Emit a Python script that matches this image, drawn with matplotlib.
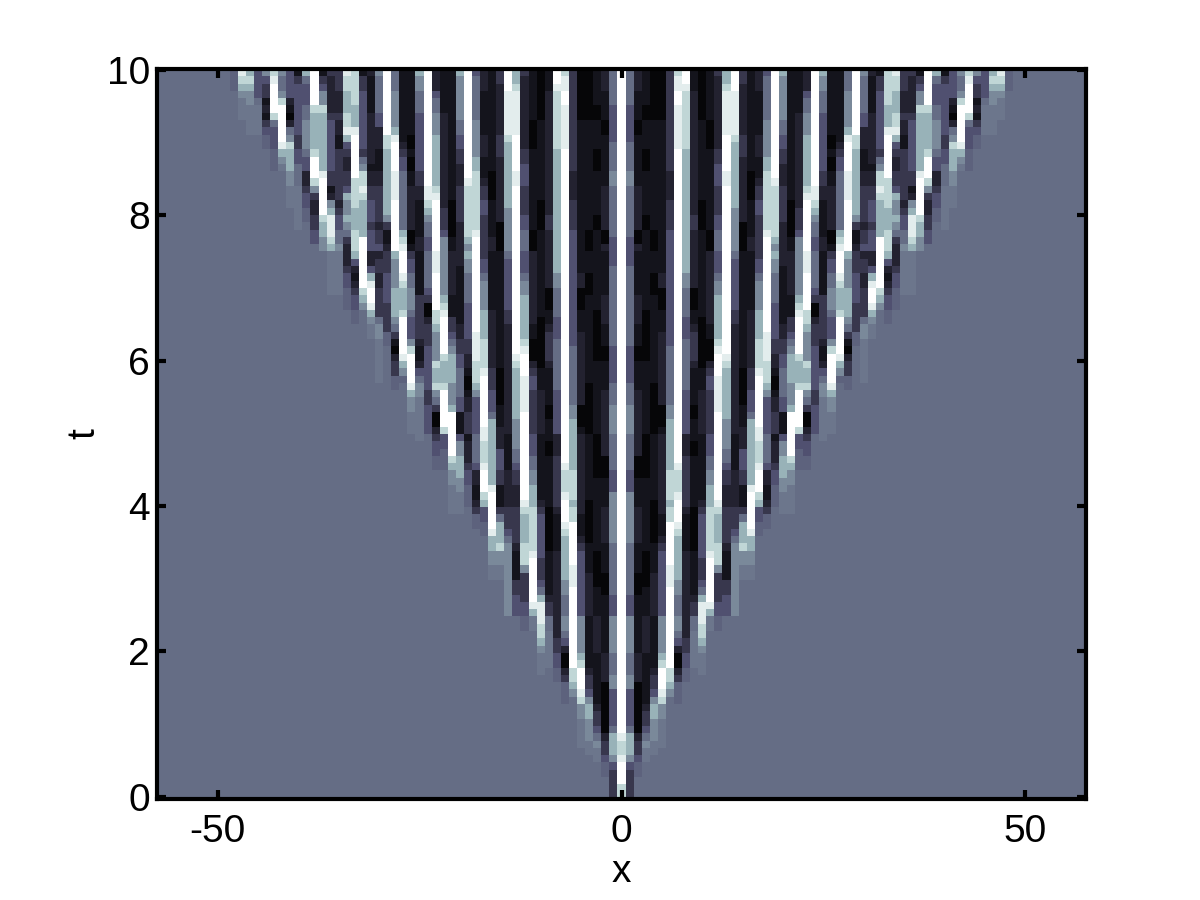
import numpy as np
import matplotlib
matplotlib.use("Agg")
import matplotlib.pyplot as plt

plt.rcParams['font.family'] = ['Liberation Sans', 'DejaVu Sans']
plt.rcParams['axes.unicode_minus'] = False

# Shade code -> value on the colour scale
SHADES = {'0': .03, '1': .09, '2': .16, '3': .25, '4': .36, 'd': .42, '5': .455,
          'f': .485, '6': .55, '7': .68, '8': .82, 'a': .92, '9': 1.0}
BACKGROUND = '5'
X_TICKS = [-50, 0, 50]
T_TICKS = [0, 2, 4, 6, 8, 10]
X_MAX = 57
ROWS_PER_BLOCK = 25

# Each block: |x| -> runs "shade:count" down the rows, top of the block first.
BLOCK_T_TOP = {
48: "d:3", 47: "a:1 8:1 7:1 6:1 f:3", 46: "7:1 8:1 7:1 6:2 f:4", 45: "4:4 5:1 f:4",
44: "6:1 4:1 3:2 1:1 2:1 1:1 3:1 4:1 d:2", 43: "8:1 a:1 9:4 8:1 5:1 4:3 d:3",
42: "6:1 5:2 6:1 8:1 9:5 a:1 7:1 6:1 f:1", 41: "4:4 2:1 1:1 0:1 2:1 5:1 6:1 8:1 7:3 6:2 f:3",
40: "1:1 3:1 4:7 3:2 4:2 5:3 f:6", 39: "7:1 5:1 4:3 5:2 6:4 5:1 4:2 2:2 3:1 4:2 d:2",
38: "9:5 8:1 7:5 8:1 9:3 8:1 6:1 3:1 2:2 3:2 4:2",
37: "1:1 3:1 4:1 6:2 8:1 7:8 a:1 9:5 8:1 7:2 6:2",
36: "3:1 2:5 3:1 4:7 3:2 1:1 2:1 6:1 7:1 a:3 8:1 7:1",
35: "3:3 2:3 3:1 2:2 1:2 3:7 2:1 3:1 4:2 5:2 6:1",
34: "a:1 8:2 7:3 8:2 a:1 7:1 4:1 3:1 2:2 3:2 4:1 7:1 6:2 7:1 6:1 5:1 3:1 2:1",
33: "8:5 7:3 a:1 9:6 8:4 7:3 8:3", 32: "1:1 3:2 4:8 3:1 5:1 6:1 8:2 a:1 8:1 7:5 9:2",
31: "2:1 1:5 2:7 1:1 2:2 3:2 4:3 3:1 4:3", 30: "6:1 5:5 4:2 2:3 1:3 2:2 3:5 2:1 3:2 4:1",
29: "9:9 8:2 7:9 6:1 3:1 1:2 2:1", 28: "5:3 6:5 7:1 a:1 9:4 a:4 9:7",
27: "1:10 2:1 3:1 4:2 5:8 7:1 8:1 a:1", 26: "1:9 0:2 1:1 0:2 1:2 2:6 0:2 1:1",
25: "7:1 6:2 5:3 4:8 3:2 2:2 1:5 2:2", 24: "9:16 a:2 8:1 7:1 6:1 5:2 4:2",
23: "2:3 4:1 5:2 6:3 7:7 8:1 a:1 9:7", 22: "1:6 2:13 3:3 4:1 6:2", 21: "1:18 0:5 1:2",
20: "7:1 6:6 5:2 4:2 3:2 2:3 3:5 2:4", 19: "9:15 a:1 8:7 7:1 6:1",
18: "4:1 5:6 6:5 7:2 8:8 a:1 9:2", 17: "2:3 1:6 2:3 1:3 2:1 3:2 4:2 3:5",
16: "1:14 0:4 1:5 2:2", 15: "3:2 2:7 3:3 2:9 0:4", 14: "9:3 a:6 8:1 7:9 6:6",
13: "7:2 8:1 a:6 9:5 a:2 9:9", 12: "3:1 2:10 3:2 4:3 3:4 4:2 5:3", 11: "1:7 0:4 1:11 0:3",
10: "0:7 1:11 0:4 1:3", 9: "1:3 2:17 3:2 2:3", 8: "9:2 a:1 8:8 7:14", 7: "8:1 a:2 9:2 a:6 9:14",
6: "3:14 2:4 3:4 4:3", 5: "0:7 1:18", 4: "0:7 1:15 0:3", 3: "1:5 0:2 1:4 0:3 1:6 0:2 1:3",
2: "2:3 1:4 0:2 1:7 2:6 0:2 2:1", 1: "5:5 4:5 5:4 6:2 5:7 4:2", 0: "9:25",
}
BLOCK_T_UPPER = {
36: "f:6", 35: "f:6", 34: "2:2 3:1 4:2 d:3", 33: "7:1 4:1 2:1 1:1 2:1 3:1 4:2 d:2",
32: "9:5 8:1 7:1 6:1", 31: "2:2 4:1 7:1 a:1 9:2 a:1 7:1 6:1 f:2", 30: "2:1 3:2 2:2 3:4 5:1 6:2 f:6",
29: "3:3 4:4 3:4 d:2", 28: "7:1 6:4 7:4 6:1 5:1 3:1 1:1 0:1 2:1 3:2 d:2",
27: "9:3 a:1 8:1 7:3 8:1 9:5 a:1 7:1 6:1 d:1", 26: "3:1 4:2 5:2 6:3 5:1 4:3 6:1 8:1 9:4 a:1 7:1 6:2 f:3",
25: "1:6 3:6 2:1 1:2 2:1 4:1 5:1 6:2 f:5", 24: "5:5 4:1 3:1 0:2 2:1 3:3 4:6 3:2 4:4",
23: "a:3 9:5 8:2 7:1 6:4 8:1 7:2 8:1 6:1 5:1 3:1 0:2 2:1",
22: "6:6 7:1 8:1 a:1 9:5 8:1 7:3 8:1 9:5 8:1", 21: "2:6 1:3 3:2 4:1 5:1 6:1 7:4 6:3 7:1 9:3",
20: "2:2 1:8 2:2 3:2 4:2 5:4 4:2 1:3", 19: "7:1 6:2 5:4 4:5 3:2 2:2 1:1 0:2 1:1 2:2 3:3",
18: "9:11 a:4 8:3 7:1 6:1 4:5", 17: "3:1 4:2 5:1 6:4 7:4 8:4 a:1 9:7 a:1",
16: "1:8 2:8 3:3 4:3 5:1 7:2", 15: "1:16 0:5 1:3 2:1", 14: "5:1 4:7 3:2 2:15",
13: "9:14 a:1 8:1 7:7 6:2", 12: "4:3 5:1 6:2 7:6 8:1 a:1 9:3 a:5 9:3",
11: "2:10 1:2 0:3 2:1 3:1 4:2 3:6", 10: "1:9 0:7 1:3 2:6", 9: "2:5 0:3 1:2 2:1 3:4 2:1 1:5 0:2 1:2",
8: "7:3 6:2 5:4 4:3 5:7 4:6", 7: "9:25", 6: "4:13 5:8 6:2 7:2", 5: "1:3 2:2 0:3 1:3 2:10 0:3 1:1",
4: "1:3 0:3 1:12 0:7", 3: "1:8 0:7 1:10", 2: "1:6 2:4 1:3 0:2 1:4 2:6", 1: "4:2 5:11 4:5 5:3 6:4", 0: "9:25",
}
BLOCK_T_LOWER = {
25: "f:1", 23: "3:1 4:2 d:2", 22: "4:2 d:3", 21: "9:3 8:1 7:1 6:2 f:4", 20: "4:1 6:2 7:3 6:2 f:3",
19: "1:1 2:3 3:1 4:2 d:3", 18: "5:4 4:1 2:2 1:2 2:1 3:1 d:2", 17: "a:1 8:3 a:1 9:3 8:1 7:1 4:2 d:2",
16: "7:7 a:1 9:5 a:1 7:2 6:2 f:2", 15: "2:2 4:3 3:2 1:3 3:1 5:1 7:3 8:1 6:2 f:2",
14: "1:5 2:5 3:3 4:1 5:1 6:10", 13: "6:2 5:2 4:1 3:2 2:3 3:5 2:1 1:4 3:2 4:3",
12: "9:9 a:1 8:1 7:4 8:3 6:1 3:4 4:2", 11: "4:3 5:2 6:2 7:3 8:6 a:1 9:6 a:1 7:1",
10: "1:9 2:1 3:1 4:6 3:3 4:1 5:1 7:1 a:2", 9: "1:1 0:2 1:7 0:6 1:6 2:1 3:2",
8: "2:3 3:7 2:1 1:5 2:9", 7: "9:4 a:1 8:3 a:1 9:3 a:1 8:1 7:6 6:2 5:3",
6: "7:5 8:4 7:1 8:2 9:6 a:3 9:4", 5: "2:11 1:3 2:1 3:1 4:9", 4: "1:9 0:6 1:4 2:6",
3: "0:6 1:10 0:5 1:4", 2: "2:3 0:3 1:4 2:5 1:4 0:3 1:3", 1: "5:5 4:3 6:7 5:7 4:3", 0: "9:25",
}
BLOCK_T_BOTTOM = {
12: "d:2", 11: "f:2", 10: "a:1 8:2 7:1 6:1 f:3", 9: "5:2 f:5", 8: "2:3 3:2 4:2 d:2",
7: "6:2 5:1 4:1 2:1 0:2 2:1 3:1 d:3", 6: "9:7 8:2 7:1 6:1", 5: "6:5 7:1 8:1 9:3 a:1 8:1 6:2 f:4",
4: "1:7 2:1 3:2 4:1 6:1 7:2 6:3 f:2", 3: "2:5 1:7 2:1 3:2 4:1 5:1 6:1 f:2", 2: "1:5 2:4 0:7 2:1 3:2 4:1 d:2",
1: "6:5 5:3 6:2 4:5 5:1 7:3 6:1 4:1 3:4", 0: "9:16 a:1 8:2 a:1 9:3 8:2",
}
BLOCKS = [BLOCK_T_TOP, BLOCK_T_UPPER, BLOCK_T_LOWER, BLOCK_T_BOTTOM]


def expand(runs):
    cells = []
    for run in runs.split():
        code, count = run.split(':')
        cells += [SHADES[code]] * int(count)
    cells += [SHADES[BACKGROUND]] * ROWS_PER_BLOCK
    return cells[:ROWS_PER_BLOCK]


half = np.full((ROWS_PER_BLOCK * len(BLOCKS), X_MAX + 1), SHADES[BACKGROUND])
for b, block in enumerate(BLOCKS):
    for k, runs in block.items():
        half[b * ROWS_PER_BLOCK:(b + 1) * ROWS_PER_BLOCK, k] = expand(runs)
field = np.hstack([half[:, :0:-1], half])

fig = plt.figure(figsize=(12, 9), dpi=100)
ax = fig.add_axes([157 / 1200, 1 - 799 / 900, 929 / 1200, 730 / 900])
ax.imshow(field, cmap='bone', vmin=0, vmax=1, origin='upper', aspect='auto',
          interpolation='nearest', extent=[-X_MAX - .5, X_MAX + .5, -0.03, 10.01])
ax.set_xticks(X_TICKS)
ax.set_yticks(T_TICKS)
ax.tick_params(direction='in', top=True, right=True, length=6.5, width=3,
               labelsize=28, colors='black')
ax.tick_params(axis='x', pad=11)
ax.tick_params(axis='y', pad=5)
for spine in ax.spines.values():
    spine.set_linewidth(3)
ax.set_xlabel('x', fontsize=28, labelpad=3)
ax.set_ylabel('t', fontsize=28, labelpad=3)
fig.savefig('out.png', dpi=100)
